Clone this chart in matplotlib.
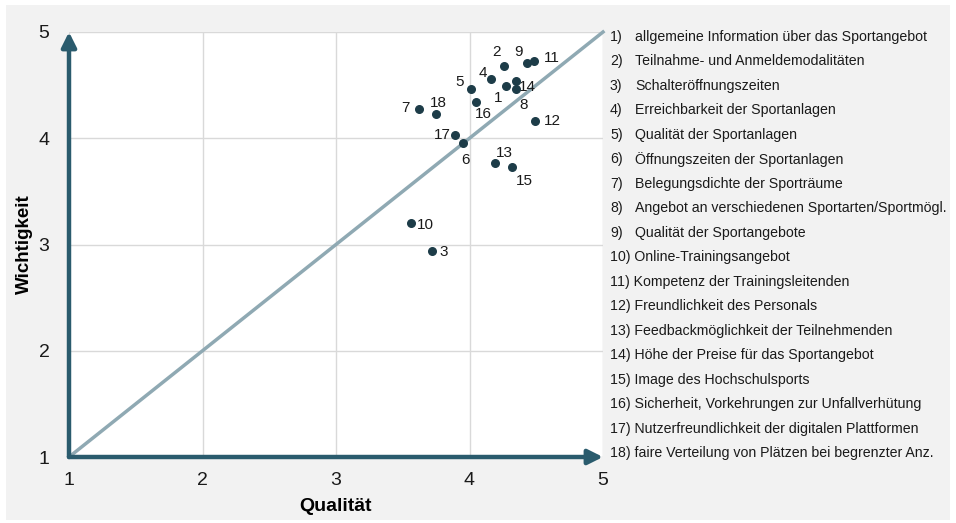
import matplotlib.pyplot as plt
from matplotlib.patches import Rectangle

plt.rcParams['font.family'] = ['Liberation Sans', 'DejaVu Sans']

# Data
ids = list(range(1, 19))
qualitaet = [4.27, 4.26, 3.72, 4.16, 4.01, 3.95, 3.62, 4.35, 4.43, 3.56,
             4.48, 4.49, 4.19, 4.35, 4.32, 4.05, 3.89, 3.75]
wichtigkeit = [4.49, 4.68, 2.94, 4.56, 4.46, 3.96, 4.28, 4.46, 4.71, 3.20,
               4.73, 4.16, 3.77, 4.54, 3.73, 4.34, 4.03, 4.23]
items = [
    "allgemeine Information über das Sportangebot",
    "Teilnahme- und Anmeldemodalitäten",
    "Schalteröffnungszeiten",
    "Erreichbarkeit der Sportanlagen",
    "Qualität der Sportanlagen",
    "Öffnungszeiten der Sportanlagen",
    "Belegungsdichte der Sporträume",
    "Angebot an verschiedenen Sportarten/Sportmögl.",
    "Qualität der Sportangebote",
    "Online-Trainingsangebot",
    "Kompetenz der Trainingsleitenden",
    "Freundlichkeit des Personals",
    "Feedbackmöglichkeit der Teilnehmenden",
    "Höhe der Preise für das Sportangebot",
    "Image des Hochschulsports",
    "Sicherheit, Vorkehrungen zur Unfallverhütung",
    "Nutzerfreundlichkeit der digitalen Plattformen",
    "faire Verteilung von Plätzen bei begrenzter Anz.",
]
ticks = [1, 2, 3, 4, 5]

# label offsets in pixels (dx, dy)
label_offsets = [(-7, -12), (-8, 14), (12, -1), (-8, 6), (-11, 7), (3, -18),
                 (-13, 0), (7, -16), (-8, 11), (15, -2), (18, 3), (17, 0),
                 (10, 10), (11, -6), (12, -14), (7, -12), (-13, 0), (2, 11)]

W, H = 956, 523
fig = plt.figure(figsize=(W / 100, H / 100), dpi=100)
fig.patch.set_facecolor('white')
bg = Rectangle((6 / W, 3 / H), 944 / W, 515 / H, transform=fig.transFigure,
               facecolor='#f2f2f2', edgecolor='none', zorder=-10)
fig.patches.append(bg)

ax = fig.add_axes([69 / W, 66 / H, 534 / W, 425 / H])
ax.set_zorder(1)
ax.set_facecolor('white')
ax.set_xlim(1, 5)
ax.set_ylim(1, 5)
ax.set_xticks(ticks)
ax.set_yticks(ticks)
ax.grid(True, color='#d9d9d9', lw=1)
ax.set_axisbelow(True)
for s in ax.spines.values():
    s.set_visible(False)
ax.tick_params(length=0, labelsize=14, colors='#1a1a1a')
ax.tick_params(axis='x', pad=11)
ax.tick_params(axis='y', pad=14)

# diagonal
ax.plot([1, 5], [1, 5], color='#8fa9b3', lw=2.5, zorder=2, clip_on=False)

# axis arrows
arrow_col = '#2a5b6d'
ax.annotate('', xy=(1, 5), xytext=(1, 1),
            arrowprops=dict(arrowstyle='-|>', lw=3.2, color=arrow_col,
                            mutation_scale=22, shrinkA=0, shrinkB=0),
            annotation_clip=False, zorder=5)
ax.annotate('', xy=(5, 1), xytext=(1, 1),
            arrowprops=dict(arrowstyle='-|>', lw=3.2, color=arrow_col,
                            mutation_scale=22, shrinkA=0, shrinkB=0),
            annotation_clip=False, zorder=5)

ax.scatter(qualitaet, wichtigkeit, s=30, color='#1d3c48', zorder=4)
for i, x, y, (dx, dy) in zip(ids, qualitaet, wichtigkeit, label_offsets):
    ax.annotate(str(i), (x, y), xytext=(dx, dy), textcoords='offset pixels',
                ha='center', va='center', fontsize=11, color='#1a1a1a')

ax.set_xlabel('Qualität', fontsize=14, fontweight='bold', labelpad=6)
ax.set_ylabel('Wichtigkeit', fontsize=13.5, fontweight='bold', labelpad=4)

# item list on the right
for k, txt in enumerate(items):
    y = 1 - (37 + k * 24.47) / H
    num = f"{k + 1})"
    if k < 9:
        fig.text(610 / W, y, num, fontsize=10.2, va='center', color='#1a1a1a')
        fig.text(635 / W, y, txt, fontsize=10.2, va='center', color='#1a1a1a')
    else:
        fig.text(610 / W, y, num + " " + txt, fontsize=10.2, va='center', color='#1a1a1a')

fig.savefig('out.png', dpi=100)
